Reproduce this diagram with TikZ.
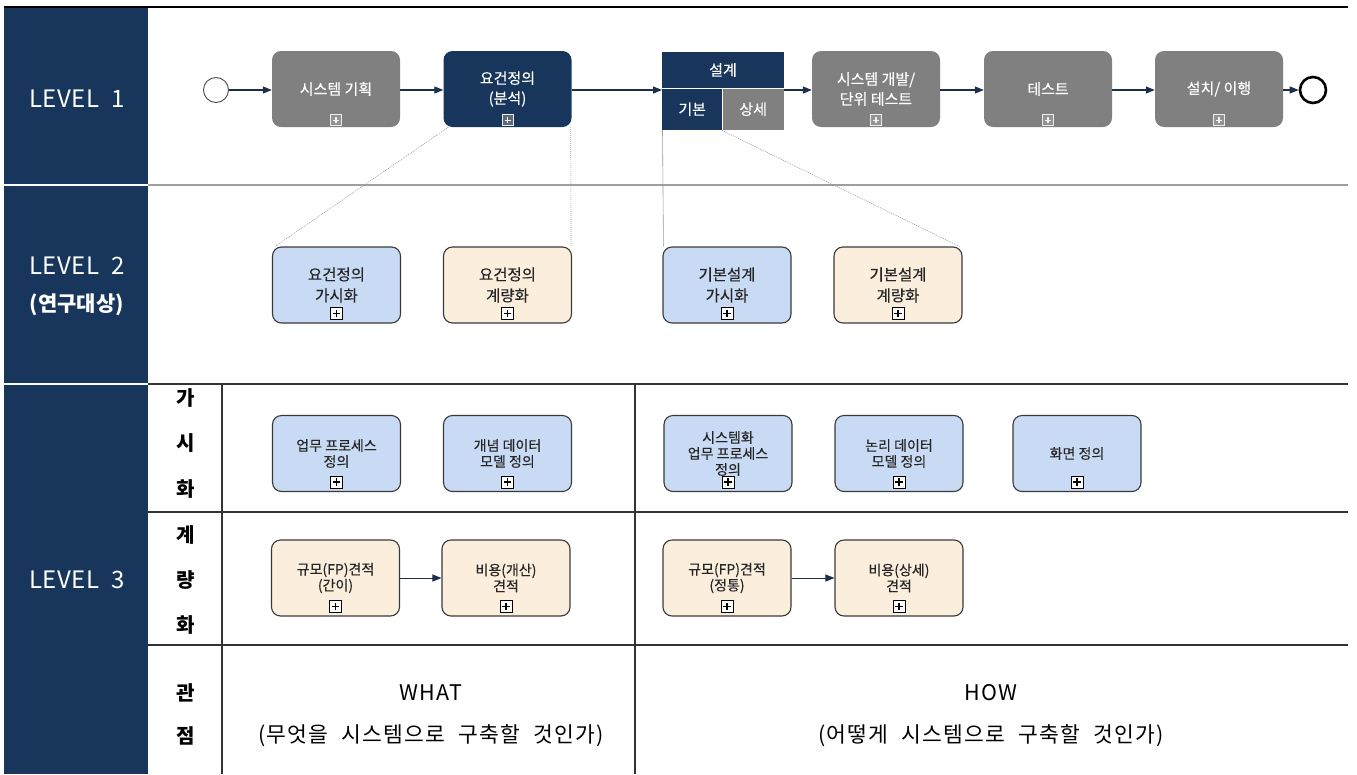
\documentclass[tikz,border=0pt]{standalone}
\usepackage{fontspec}
\setmainfont{Noto Sans CJK KR}
\newfontfamily\nodefont[FakeBold=0.35]{Noto Sans CJK KR}
\newfontfamily\widefont[LetterSpace=5, WordSpace=2.3]{Noto Sans CJK KR}
\newfontfamily\levelfont[LetterSpace=2, WordSpace=2.0]{Noto Sans CJK KR}
\usetikzlibrary{arrows.meta}
\definecolor{navy}{HTML}{18365C}
\definecolor{lgray}{HTML}{808080}
\definecolor{lblue}{HTML}{C9DBF4}
\definecolor{peach}{HTML}{FCEEDD}
\definecolor{boxline}{HTML}{3A3A3A}
\definecolor{arrowc}{HTML}{1C2E4A}
\tikzset{
  lone/.style={rectangle, rounded corners=9pt, fill=lgray, text=white, minimum width=128pt, minimum height=76pt, align=center, inner sep=0pt, font=\nodefont\fontsize{15}{20}\selectfont},
  lonen/.style={lone, fill=navy},
  bx/.style={rectangle, rounded corners=9pt, draw=boxline, line width=1.1pt, minimum width=128pt, minimum height=76pt, align=center, inner sep=0pt, text=black!85},
  vbox/.style={bx, fill=lblue},
  qbox/.style={bx, fill=peach},
  ltwo/.style={font=\nodefont\fontsize{15.5}{21}\selectfont},
  lthree/.style={font=\nodefont\fontsize{14}{16}\selectfont},
  plusicon/.style={draw=black, line width=1pt, fill=white, minimum size=12pt, inner sep=0pt,
    path picture={\draw[line width=1.8pt,black] ([xshift=-3.6pt]path picture bounding box.center) -- ([xshift=3.6pt]path picture bounding box.center) ([yshift=-3.6pt]path picture bounding box.center) -- ([yshift=3.6pt]path picture bounding box.center);}},
  graypicon/.style={draw=white!85!gray, line width=0.9pt, fill=lgray!85!white, minimum size=11pt, inner sep=0pt,
    path picture={\draw[line width=1.4pt,white!90!gray] ([xshift=-3pt]path picture bounding box.center) -- ([xshift=3pt]path picture bounding box.center) ([yshift=-3pt]path picture bounding box.center) -- ([yshift=3pt]path picture bounding box.center);}},
  navypicon/.style={graypicon, fill=gray!70!navy},
  flow/.style={-{Triangle[length=9pt,width=7pt]}, line width=1.2pt, draw=arrowc},
  guide/.style={draw=gray!80, line width=0.6pt, dash pattern=on 1pt off 1pt},
  guidesolid/.style={draw=gray!80, line width=0.6pt},
  sidelabel/.style={text=white, font=\levelfont\fontsize{24}{28}\selectfont, align=center},
  rowlabel/.style={text=black, font=\fontsize{20}{24}\selectfont\bfseries},
  persp/.style={text=black, font=\widefont\fontsize{21.5}{26}\selectfont},
  gridline/.style={draw=black!80, line width=1.1pt},
  deshead/.style={rectangle, fill=navy, text=white, inner sep=0pt, font=\nodefont\fontsize{15}{18}\selectfont},
}
\begin{document}
\begin{tikzpicture}[x=1pt,y=-1pt]
\useasboundingbox (0,0) rectangle (1357,774);
% left dark column
\fill[navy] (4,8) rectangle (148,774);
\draw[white, line width=2pt] (4,185) -- (148,185);
\draw[white, line width=2pt] (4,383.5) -- (148,383.5);
% top line and row lines
\draw[black, line width=1.6pt] (4,7) -- (1348,7);
\draw[gray!75, line width=2pt] (148,185) -- (1348,185);
\draw[gridline] (148,384) -- (1348,384);
\draw[gridline] (148,512) -- (1348,512);
\draw[gridline] (148,645) -- (1348,645);
\draw[gridline] (222,384) -- (222,774);
\draw[gridline] (635,384) -- (635,774);

% side labels
\node[sidelabel] (lv1) at (77,99) {LEVEL 1};
\node[sidelabel] (lv2) at (77,266) {LEVEL 2};
\node[sidelabel, font=\fontsize{21}{24}\selectfont\bfseries] (lv2b) at (77,305) {(연구대상)};
\node[sidelabel] (lv3) at (77,580) {LEVEL 3};

% row labels
\node[rowlabel] (rv1) at (186,398) {가};
\node[rowlabel] (rv2) at (186,443) {시};
\node[rowlabel] (rv3) at (186,489) {화};
\node[rowlabel] (rq1) at (186,535) {계};
\node[rowlabel] (rq2) at (186,580) {량};
\node[rowlabel] (rq3) at (186,625) {화};
\node[rowlabel] (rp1) at (186,693) {관};
\node[rowlabel] (rp2) at (186,736) {점};

% perspective texts
\node[persp] (what) at (431,693) {WHAT};
\node[persp] (whatd) at (431,736) {(무엇을 시스템으로 구축할 것인가)};
\node[persp] (how) at (991,693) {HOW};
\node[persp] (howd) at (991,736) {(어떻게 시스템으로 구축할 것인가)};

% ---------- LEVEL 1 ----------
\node[circle, draw=black!70, line width=0.9pt, fill=white, minimum size=25pt, inner sep=0pt] (start) at (216,90) {};
\node[lone] (plan) at (336,89) {시스템 기획};
\node[lonen] (req) at (507.5,89) {요건정의\\(분석)};
\node[deshead, minimum width=122pt, minimum height=36pt] (dtop) at (723,70) {설계};
\node[deshead, minimum width=60pt, minimum height=42pt, anchor=north west] (dbase) at (662,88) {기본};
\node[deshead, fill=lgray, minimum width=62pt, minimum height=42pt, anchor=north west] (ddet) at (722,88) {상세};
\draw[white, line width=0.8pt] (dbase.north west) -- (ddet.north east);
\draw[white, line width=0.8pt] (ddet.north west) -- (ddet.south west);
\node[lone] (dev) at (876,89) {시스템 개발/\\단위 테스트};
\node[lone] (test) at (1048,89) {테스트};
\node[lone] (inst) at (1219,89) {설치/ 이행};
\node[circle, draw=black, line width=2.6pt, fill=white, minimum size=26pt, inner sep=0pt] (end) at (1313,90) {};

\node[graypicon] (ip1) at ([yshift=7pt]plan.south) {};
\node[navypicon] (ip2) at ([yshift=7pt]req.south) {};
\node[graypicon] (ip3) at ([yshift=7pt]dev.south) {};
\node[graypicon] (ip4) at ([yshift=7pt]test.south) {};
\node[graypicon] (ip5) at ([yshift=7pt]inst.south) {};

\draw[flow] (start.east) -- (start.east -| plan.west);
\draw[flow] (plan.east |- start) -- (req.west |- start);
\draw[flow] (req.east |- start) -- (start -| dbase.west);
\draw[flow] (start -| ddet.east) -- (start -| dev.west);
\draw[flow] (dev.east |- start) -- (test.west |- start);
\draw[flow] (test.east |- start) -- (inst.west |- start);
\draw[flow] (inst.east |- start) -- (end.west);

% ---------- LEVEL 2 ----------
\node[vbox, ltwo] (ra) at (336.5,285) {요건정의\\가시화};
\node[qbox, ltwo] (rb) at (507.5,285) {요건정의\\계량화};
\node[vbox, ltwo] (da) at (727,285) {기본설계\\가시화};
\node[qbox, ltwo] (db) at (898,285) {기본설계\\계량화};
\foreach \n in {ra,rb,da,db}{\node[plusicon] (p\n) at ([yshift=10pt]\n.south) {};}

\draw[guide] ([xshift=5pt]req.south west) -- ([xshift=3pt]ra.north west);
\draw[guide] ([xshift=-1pt]req.south east) -- ([xshift=-1pt]rb.north east);
\draw[guidesolid] ([xshift=0.5pt]dbase.south west) -- ([xshift=1pt]da.north west);
\draw[guide] (ddet.south west) -- ([xshift=-3pt]db.north east);

% ---------- LEVEL 3 ----------
\node[vbox, lthree] (va) at (336.5,453.5) {업무 프로세스\\정의};
\node[vbox, lthree] (vb) at (507.5,453.5) {개념 데이터\\모델 정의};
\node[vbox, lthree] (vc) at (728,453.5) {시스템화\\업무 프로세스\\정의};
\node[vbox, lthree] (vd) at (899,453.5) {논리 데이터\\모델 정의};
\node[vbox, lthree] (ve) at (1077,453.5) {화면 정의};
\node[qbox, lthree] (qa) at (335.5,578) {규모(FP)견적\\(간이)};
\node[qbox, lthree] (qb) at (506,578) {비용(개산)\\견적};
\node[qbox, lthree] (qc) at (727,578) {규모(FP)견적\\(정통)};
\node[qbox, lthree] (qd) at (899,578) {비용(상세)\\견적};
\foreach \n in {va,vb,vc,vd,ve,qa,qb,qc,qd}{\node[plusicon] (p\n) at ([yshift=10pt]\n.south) {};}

\draw[flow, line width=1pt] (qa.east) -- (qb.west);
\draw[flow, line width=1pt] (qc.east) -- (qd.west);
\end{tikzpicture}
\end{document}
